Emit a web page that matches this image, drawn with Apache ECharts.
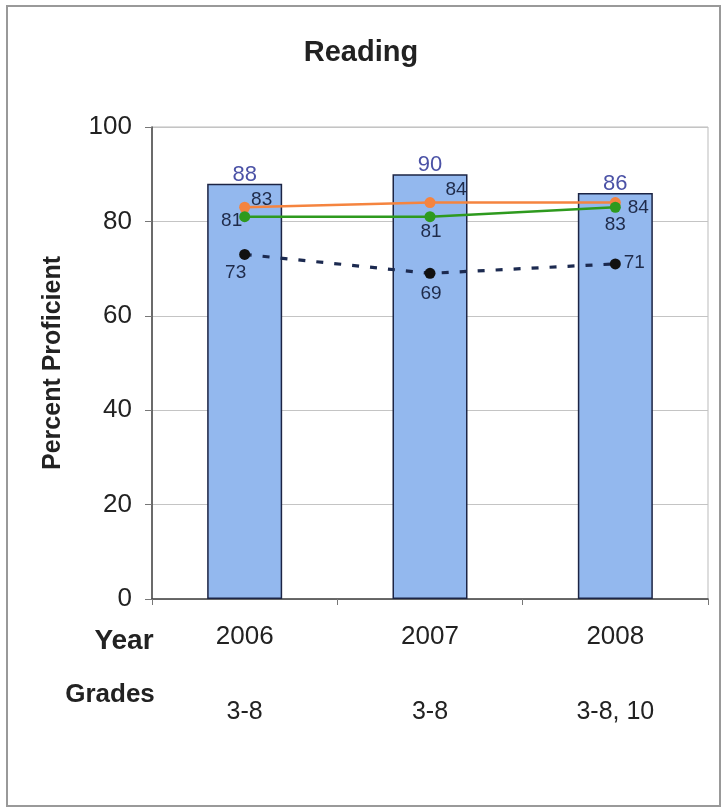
<!DOCTYPE html>
<html>
<head>
<meta charset="utf-8">
<script src="https://cdn.jsdelivr.net/npm/echarts@6/dist/echarts.min.js"></script>
<style>
html,body{margin:0;padding:0;background:#fff;}
#main{width:722px;height:808px;}
</style>
</head>
<body>
<div id="main"></div>
<script>
var years = ['2006', '2007', '2008'];
var grades = ['3-8', '3-8', '3-8, 10'];
var schoolVals = [88, 90, 86];
var orangeVals = [83, 84, 84];
var greenVals = [81, 81, 83];
var dashVals = [73, 69, 71];

var font = 'Arial, "Liberation Sans", sans-serif';

// label offsets (px from the marker centre) for each point of the line series
var orangeOff = [[17, -7], [26, -13], [23, 5]];
var greenOff = [[-13, 4], [1, 15], [0, 18]];
var dashOff = [[-9, 18], [1, 20], [19, -1]];

function withLabels(vals, offs) {
    return vals.map(function (v, i) {
        return { value: v, label: { offset: offs[i] } };
    });
}

var lineLabel = {
    show: true,
    position: 'inside',
    fontFamily: font,
    fontSize: 19,
    color: '#1f2b4a'
};

var option = {
    animation: false,
    backgroundColor: '#fff',
    title: {
        text: 'Reading',
        left: 'center',
        top: 33,
        textStyle: { fontFamily: font, fontSize: 29, fontWeight: 'bold', color: '#222' }
    },
    grid: {
        left: 152, right: 14, top: 127, bottom: 209,
        show: true, borderColor: '#bbb', borderWidth: 1
    },
    xAxis: {
        type: 'category',
        data: years,
        axisLine: { lineStyle: { color: '#444', width: 1.5 } },
        axisTick: { show: true, length: 6, lineStyle: { color: '#777' } },
        axisLabel: {
            margin: 23,
            formatter: function (v, i) {
                return '{y|' + v + '}\n{g|' + grades[i] + '}';
            },
            rich: {
                y: { fontFamily: font, fontSize: 26, color: '#222', lineHeight: 30 },
                g: { fontFamily: font, fontSize: 25, color: '#222', lineHeight: 120 }
            }
        }
    },
    yAxis: {
        type: 'value',
        min: 0,
        max: 100,
        interval: 20,
        name: 'Percent Proficient',
        nameLocation: 'middle',
        nameGap: 86,
        nameTextStyle: { fontFamily: font, fontSize: 25, fontWeight: 'bold', color: '#222' },
        axisLine: { show: true, lineStyle: { color: '#444', width: 1.5 } },
        axisTick: { show: true, length: 7, lineStyle: { color: '#777' } },
        axisLabel: { fontFamily: font, fontSize: 26, color: '#222', margin: 20 },
        splitLine: { lineStyle: { color: '#c4c4c4', width: 1 } }
    },
    series: [
        {
            type: 'bar',
            data: schoolVals,
            barWidth: 75,
            itemStyle: { color: '#93b8ee', borderColor: '#1c2444', borderWidth: 1.5 },
            label: {
                show: true, position: 'top', distance: -2,
                fontFamily: font, fontSize: 22, color: '#4b52a6'
            },
            z: 1
        },
        {
            type: 'line',
            data: withLabels(orangeVals, orangeOff),
            symbol: 'circle',
            symbolSize: 11,
            lineStyle: { color: '#f5843f', width: 2.5 },
            itemStyle: { color: '#f5843f' },
            label: lineLabel,
            z: 3
        },
        {
            type: 'line',
            data: withLabels(greenVals, greenOff),
            symbol: 'circle',
            symbolSize: 11,
            lineStyle: { color: '#2e9a1e', width: 2.5 },
            itemStyle: { color: '#2e9a1e' },
            label: lineLabel,
            z: 3
        },
        {
            type: 'line',
            data: withLabels(dashVals, dashOff),
            symbol: 'circle',
            symbolSize: 11,
            lineStyle: { color: '#1c2a50', width: 3.2, type: [7, 11] },
            itemStyle: { color: '#111' },
            label: lineLabel,
            z: 3
        }
    ],
    graphic: [
        {
            type: 'rect',
            shape: { x: 7, y: 6, width: 713, height: 800 },
            style: { fill: 'none', stroke: '#999', lineWidth: 2 },
            silent: true
        },
        {
            type: 'text',
            x: 124, y: 641,
            style: {
                text: 'Year', fontFamily: font, fontSize: 28, fontWeight: 'bold', fill: '#222',
                align: 'center', verticalAlign: 'middle'
            }
        },
        {
            type: 'text',
            x: 110, y: 695,
            style: {
                text: 'Grades', fontFamily: font, fontSize: 26, fontWeight: 'bold', fill: '#222',
                align: 'center', verticalAlign: 'middle'
            }
        }
    ]
};

var chart = echarts.init(document.getElementById('main'));
chart.setOption(option);
</script>
</body>
</html>
